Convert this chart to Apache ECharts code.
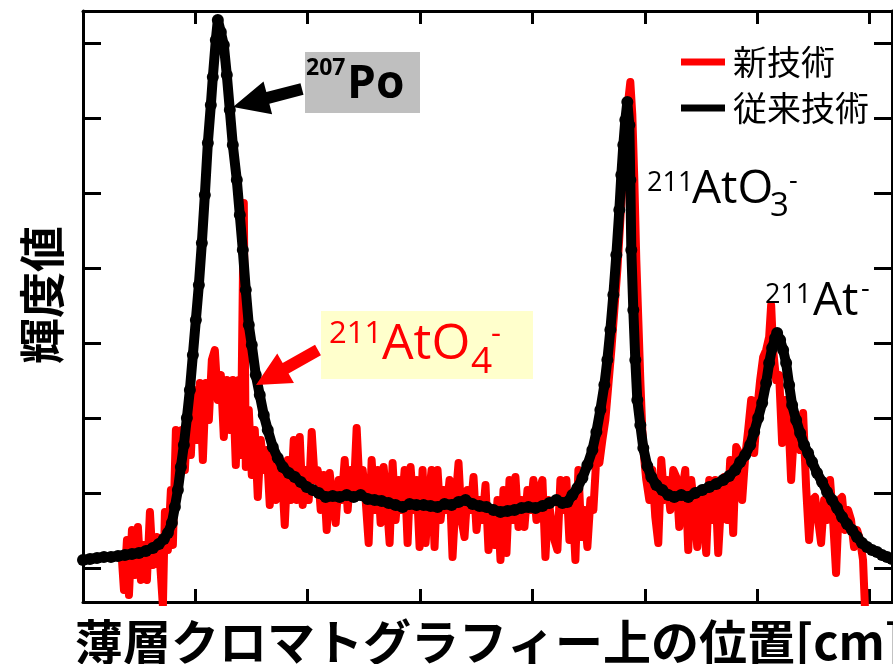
<!DOCTYPE html>
<html>
<head>
<meta charset="utf-8">
<title>TLC</title>
<script src="https://cdn.jsdelivr.net/npm/echarts@6/dist/echarts.min.js"></script>
<style>
  html, body { margin: 0; padding: 0; background: #fff; }
  #main { width: 893px; height: 664px; }
</style>
</head>
<body>
<div id="main"></div>
<script>
// position along the plate (arbitrary units, 112.5 per tick) and brightness (arbitrary units)
var seriesNames = ["新技術", "従来技術"];

var redX = [39,41,44,46,49,52,55,58,61,64,67,70,74,77,80,82,85,88,90,93,96,99,102,105,108,111,114,117,120,123,126,129,132,135,138,141,144,147,150,153,156,158,161,163,166,169,172,175,178,181,184,187,190,193,196,199,202,205,208,211,214,217,220,223,226,229,232,235,238,241,244,247,250,253,256,259,262,265,268,271,274,277,280,283,286,289,292,295,298,301,304,307,310,313,316,319,322,325,328,331,334,337,340,343,346,349,352,355,358,361,364,367,370,373,376,379,382,385,388,391,394,397,400,403,406,409,412,415,418,421,424,427,430,433,436,439,442,445,448,451,454,457,460,463,466,469,472,475,478,481,484,487,490,493,496,499,502,505,508,511,514,517,520,523,526,529,532,535,538,541,544,546,548,550,552,554,556,558,560,562,564,567,570,573,576,579,582,585,588,591,594,597,600,603,606,609,612,615,618,621,624,627,630,633,636,639,642,645,648,651,654,657,660,663,666,669,672,675,678,681,684,687,689,691,694,697,700,703,706,709,712,715,718,721,724,727,730,733,736,739,742,745,748,751,754,757,760,763,766,769,772,775,778,781,783];
var redY = [42,12,62,7,72,27,75,22,57,22,90,37,65,42,-4,90,52,112,57,172,127,172,132,192,147,212,162,219,142,219,182,242,252,202,227,165,222,172,222,137,222,147,399,135,192,127,172,105,162,132,152,97,147,102,132,132,77,142,102,162,102,165,97,132,102,170,122,132,92,127,72,129,102,79,122,102,142,92,132,107,174,112,132,102,59,142,92,132,79,135,102,59,139,82,122,92,132,59,135,92,122,55,132,59,102,132,55,132,82,112,92,122,45,102,139,82,65,112,92,125,72,102,82,117,52,92,57,102,42,112,49,122,82,125,75,102,75,112,92,122,82,112,122,45,102,82,62,52,122,92,122,62,102,42,132,65,92,55,102,92,145,139,162,182,217,252,292,332,382,432,472,502,520,487,422,342,282,222,172,142,122,102,132,85,59,142,102,122,92,132,125,75,112,132,52,122,95,55,112,89,49,122,82,122,49,102,125,82,142,69,155,149,102,145,172,202,149,192,222,245,252,265,297,252,222,227,159,202,189,122,172,182,152,189,115,62,102,105,82,59,102,82,122,82,29,102,105,72,92,82,55,72,62,42,-8];

var blackX = [0,7,14,21,28,35,42,49,56,63,70,76,81,85,89,92,95,98,101,104,107,110,113,116,119,122,125,128,130,133,135,138,141,144,147,150,154,157,160,163,166,169,173,177,181,185,190,195,200,206,212,218,224,230,236,243,250,257,264,271,278,285,292,299,306,313,320,327,334,341,348,355,362,369,376,383,390,397,404,411,418,425,432,439,446,453,460,467,474,480,485,490,495,500,505,510,514,518,522,525,528,531,534,537,539,541,543,545,547,548,549,551,553,555,558,561,565,569,574,580,586,592,599,606,613,620,627,634,641,647,653,658,663,668,672,676,680,684,687,690,693,695,698,701,704,707,710,714,718,722,726,730,735,740,745,750,755,760,765,770,775,780,785,790,795,800,805,810];
var blackY = [42,43,44,45,45,46,47,48,49,51,54,58,63,69,79,95,112,135,157,184,212,247,282,317,359,407,459,497,525,562,582,570,557,527,492,457,422,387,352,312,277,257,227,207,187,172,155,144,135,129,125,120,115,112,109,105,106,105,107,105,107,103,102,101,99,97,95,98,97,97,96,95,98,97,100,102,98,96,95,92,90,91,92,94,95,94,96,99,102,99,100,107,114,124,137,152,170,192,217,242,272,307,347,392,427,457,482,500,477,422,352,292,242,202,177,154,136,125,117,112,107,105,107,105,109,112,115,118,122,126,132,140,147,157,170,184,199,219,239,254,264,269,262,252,239,217,197,182,169,157,149,140,129,120,110,102,94,85,78,72,65,59,55,52,50,47,45,43];

var yTicks = [34, 109, 184, 259, 334, 409, 484, 559];

function pairs(xs, ys) {
  var out = [];
  for (var i = 0; i < xs.length; i++) out.push([xs[i], ys[i]]);
  return out;
}

// arrow polygon from tail to tip
function arrow(x1, y1, x2, y2, shaftW, headL, headW) {
  var dx = x2 - x1, dy = y2 - y1;
  var len = Math.sqrt(dx * dx + dy * dy);
  var ux = dx / len, uy = dy / len;
  var nx = -uy, ny = ux;
  var bx = x2 - ux * headL, by = y2 - uy * headL;
  var s = shaftW / 2, h = headW / 2;
  return [
    [x1 + nx * s, y1 + ny * s],
    [bx + nx * s, by + ny * s],
    [bx + nx * h, by + ny * h],
    [x2, y2],
    [bx - nx * h, by - ny * h],
    [bx - nx * s, by - ny * s],
    [x1 - nx * s, y1 - ny * s]
  ];
}

var jp = "'Noto Sans CJK JP', sans-serif";
var lat = "'Open Sans', 'Noto Sans', sans-serif";

function txt(x, y, s, size, color, weight) {
  return {
    type: "text", x: x, y: y, z: 100,
    style: { text: s, fill: color, font: (weight || "normal") + " " + size + "px " + lat, textVerticalAlign: "middle" }
  };
}

var chart = echarts.init(document.getElementById("main"));

var axisCommon = {
  axisLine: { show: true, onZero: false, lineStyle: { color: "#000", width: 3 } },
  axisLabel: { show: false },
  splitLine: { show: false }
};

chart.setOption({
  animation: false,
  backgroundColor: "#fff",
  grid: { left: 83, right: 1, top: 11, bottom: 62 },
  legend: {
    orient: "vertical",
    left: 676,
    top: 40,
    itemWidth: 44,
    itemHeight: 7,
    itemGap: 12,
    textStyle: { fontFamily: jp, fontSize: 34, color: "#000", padding: [0, 0, 0, 3] },
    data: [
      { name: seriesNames[0], icon: "rect" },
      { name: seriesNames[1], icon: "rect" }
    ]
  },
  xAxis: [
    Object.assign({
      type: "value", min: 0, max: 810, interval: 112.5, position: "bottom",
      axisTick: { show: true, inside: true, length: 13, lineStyle: { color: "#000", width: 3 } }
    }, axisCommon),
    Object.assign({
      type: "value", min: 0, max: 810, interval: 112.5, position: "top",
      axisTick: { show: true, inside: true, length: 13, lineStyle: { color: "#000", width: 3 } }
    }, axisCommon)
  ],
  yAxis: [
    Object.assign({
      type: "value", min: 0, max: 591, position: "left",
      axisTick: { show: true, inside: true, length: 18, customValues: yTicks, lineStyle: { color: "#000", width: 3 } }
    }, axisCommon),
    Object.assign({
      type: "value", min: 0, max: 591, position: "right",
      axisTick: { show: true, inside: true, length: 18, customValues: yTicks, lineStyle: { color: "#000", width: 3 } }
    }, axisCommon)
  ],
  series: [
    {
      name: seriesNames[0],
      type: "line",
      data: pairs(redX, redY),
      showSymbol: false,
      color: "#ff0000",
      lineStyle: { color: "#ff0000", width: 8, cap: "round", join: "round" },
      z: 2
    },
    {
      name: seriesNames[1],
      type: "line",
      data: pairs(blackX, blackY),
      symbol: "circle",
      symbolSize: 12,
      showAllSymbol: true,
      color: "#000",
      itemStyle: { color: "#000" },
      lineStyle: { color: "#000", width: 10, cap: "round", join: "round" },
      z: 3
    }
  ],
  graphic: [
    // axis titles
    {
      type: "text", x: 42, y: 295, rotation: Math.PI / 2, z: 100,
      style: { text: "輝度値", fill: "#000", font: "bold 46px " + jp, textAlign: "center", textVerticalAlign: "middle" }
    },
    {
      type: "text", x: 75, y: 642, z: 100,
      style: { text: "薄層クロマトグラフィー上の位置[cm]", fill: "#000", font: "bold 48px " + jp, textVerticalAlign: "middle" }
    },
    // 207Po label
    { type: "rect", z: 90, shape: { x: 305, y: 52, width: 115, height: 61 }, style: { fill: "#bfbfbf" } },
    txt(306, 68, "207", 23, "#000", "bold"),
    txt(347, 85, "Po", 46, "#000", "bold"),
    { type: "polygon", z: 100, shape: { points: arrow(302, 89, 233, 107, 12, 36, 34) }, style: { fill: "#000" } },
    // 211AtO4- label
    { type: "rect", z: 90, shape: { x: 321, y: 311, width: 212, height: 68 }, style: { fill: "#ffffcc" } },
    txt(329, 334, "211", 31, "#ff0000"),
    txt(382, 345, "AtO", 50, "#ff0000"),
    txt(471, 362, "4", 37, "#ff0000"),
    txt(491, 334, "-", 31, "#ff0000"),
    { type: "polygon", z: 100, shape: { points: arrow(318, 350, 256, 385, 12, 34, 34) }, style: { fill: "#ff0000" } },
    // 211AtO3- label
    txt(647, 183, "211", 27, "#000"),
    txt(692, 190, "AtO", 46, "#000"),
    txt(770, 207, "3", 33, "#000"),
    txt(789, 181, "-", 27, "#000"),
    // 211At- label
    txt(765, 295, "211", 27, "#000"),
    txt(813, 302, "At", 46, "#000"),
    txt(861, 289, "-", 27, "#000")
  ]
});
</script>
</body>
</html>
